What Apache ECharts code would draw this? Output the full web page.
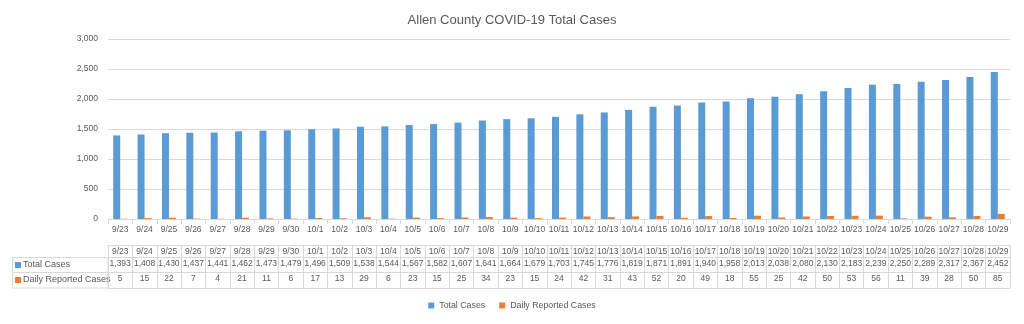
<!DOCTYPE html>
<html><head><meta charset="utf-8">
<script src="https://cdn.jsdelivr.net/npm/echarts@6/dist/echarts.min.js"></script>
<style>html,body{margin:0;padding:0;background:#fff}#c{width:1024px;height:324px}</style>
</head><body><div id="c"></div>
<script>
const categories = ['9/23','9/24','9/25','9/26','9/27','9/28','9/29','9/30','10/1','10/2','10/3','10/4','10/5','10/6','10/7','10/8','10/9','10/10','10/11','10/12','10/13','10/14','10/15','10/16','10/17','10/18','10/19','10/20','10/21','10/22','10/23','10/24','10/25','10/26','10/27','10/28','10/29'];
const totalCases = [1393,1408,1430,1437,1441,1462,1473,1479,1496,1509,1538,1544,1567,1582,1607,1641,1664,1679,1703,1745,1776,1819,1871,1891,1940,1958,2013,2038,2080,2130,2183,2239,2250,2289,2317,2367,2452];
const dailyCases = [5,15,22,7,4,21,11,6,17,13,29,6,23,15,25,34,23,15,24,42,31,43,52,20,49,18,55,25,42,50,53,56,11,39,28,50,85];
const yTicks = [0,500,1000,1500,2000,2500,3000];

const FONT = "'Liberation Sans',sans-serif";
const GRAY = '#D9D9D9', TXT = '#595959';
const BLUE = '#5B9BD5', ORANGE = '#ED7D31';
const FS = 8.5;

function tableAxis(offset, labels, rowH, showLabels) {
  return {
    type: 'category', data: categories, position: 'bottom', offset: offset, gridIndex: 0,
    axisLine: { show: true, lineStyle: { color: GRAY } },
    axisTick: { show: rowH > 0, interval: 0, length: rowH, lineStyle: { color: GRAY } },
    axisLabel: { show: showLabels, interval: 0, margin: 2.5, fontSize: FS, color: TXT, fontFamily: FONT,
      formatter: (v, i) => labels ? labels[i] : v },
    splitLine: { show: false }
  };
}

const chart = echarts.init(document.getElementById('c'), null, { renderer: 'canvas' });
chart.setOption({
  animation: false,
  title: { text: 'Allen County COVID-19 Total Cases', left: 'center', top: 9,
    textStyle: { fontFamily: FONT, fontSize: 13, fontWeight: 'normal', color: TXT } },
  grid: { left: 108, right: 14, top: 39, bottom: 105 },
  legend: { bottom: 9, left: 'center', icon: 'rect', itemWidth: 6, itemHeight: 6, itemGap: 14,
    textStyle: { fontFamily: FONT, fontSize: 8.8, color: TXT },
    data: ['Total Cases', 'Daily Reported Cases'] },
  xAxis: [
    { type: 'category', data: categories,
      axisLine: { lineStyle: { color: GRAY } },
      axisTick: { show: true, interval: 0, length: 5, lineStyle: { color: GRAY } },
      axisLabel: { interval: 0, margin: 6, fontSize: FS, color: TXT, fontFamily: FONT } },
    tableAxis(26, null, 12, true),
    tableAxis(38, totalCases.map(v => v.toLocaleString('en-US')), 15, true),
    tableAxis(53, dailyCases.map(String), 16, true),
    tableAxis(69, null, 0, false)
  ],
  yAxis: { type: 'value', min: yTicks[0], max: yTicks[yTicks.length - 1], interval: 500,
    axisLine: { show: false }, axisTick: { show: false },
    axisLabel: { fontSize: FS, color: TXT, fontFamily: FONT, margin: 10,
      formatter: v => v.toLocaleString('en-US') },
    splitLine: { lineStyle: { color: GRAY } } },
  series: [
    { name: 'Total Cases', type: 'bar', data: totalCases, barWidth: 7, barGap: '0%', itemStyle: { color: BLUE } },
    { name: 'Daily Reported Cases', type: 'bar', data: dailyCases, barWidth: 7, barGap: '0%', itemStyle: { color: ORANGE } }
  ],
  graphic: [
    { type: 'rect', shape: { x: 12.5, y: 257.5, width: 95.5, height: 30.5 }, style: { fill: 'none', stroke: GRAY, lineWidth: 1 } },
    { type: 'line', shape: { x1: 12.5, y1: 272.5, x2: 108, y2: 272.5 }, style: { stroke: GRAY, lineWidth: 1 } },
    { type: 'rect', shape: { x: 15, y: 262, width: 6, height: 6 }, style: { fill: BLUE } },
    { type: 'text', x: 23, y: 265, style: { text: 'Total Cases', fontSize: 9, fontFamily: FONT, fill: TXT, verticalAlign: 'middle' } },
    { type: 'rect', shape: { x: 15, y: 277, width: 6, height: 6 }, style: { fill: ORANGE } },
    { type: 'text', x: 23, y: 280, style: { text: 'Daily Reported Cases', fontSize: 9, fontFamily: FONT, fill: TXT, verticalAlign: 'middle' } }
  ]
});
</script></body></html>
